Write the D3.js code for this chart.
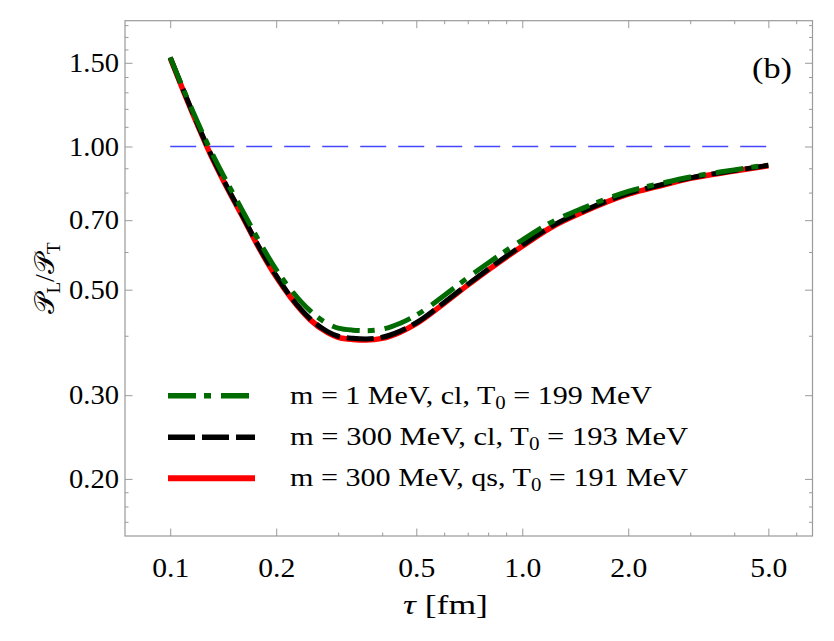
<!DOCTYPE HTML>
<html lang="en">
  <head>
    <meta charset="utf-8" />
    <title>PL/PT vs tau</title>
    <style>
      body { margin: 0; background: #fff; }
      svg text { font-family: "Liberation Serif", "Times New Roman", serif; fill: #000; }
    </style>
  </head>
  <body>
  <script src="https://d3js.org/d3.v7.min.js"></script>
  <script>
    // data
    const tau = [0.1, 0.11, 0.12, 0.13, 0.14, 0.16, 0.18, 0.2, 0.22, 0.25, 0.28, 0.3, 0.33, 0.36,
                 0.4, 0.45, 0.5, 0.6, 0.7, 0.8, 1.0, 1.2, 1.5, 2.0, 2.5, 3.0, 4.0, 5.0];
    const greenVals = [1.54, 1.299, 1.119, 0.984, 0.883, 0.736, 0.627, 0.551, 0.500, 0.451, 0.424, 0.415, 0.411, 0.410,
                       0.413, 0.425, 0.442, 0.486, 0.530, 0.569, 0.636, 0.691, 0.744, 0.805, 0.838, 0.863, 0.893, 0.916];
    const blackVals = [1.54, 1.293, 1.108, 0.969, 0.866, 0.718, 0.609, 0.535, 0.483, 0.434, 0.408, 0.399, 0.395, 0.394,
                       0.397, 0.409, 0.426, 0.470, 0.513, 0.552, 0.620, 0.677, 0.733, 0.797, 0.832, 0.859, 0.890, 0.913];
    const redVals = [1.535, 1.287, 1.103, 0.964, 0.862, 0.715, 0.606, 0.532, 0.481, 0.432, 0.406, 0.397, 0.393, 0.392,
                     0.395, 0.407, 0.424, 0.468, 0.511, 0.550, 0.617, 0.674, 0.730, 0.794, 0.829, 0.857, 0.888, 0.911];
    const refLine = [{t: 0.1, v: 1.0}, {t: 5.0, v: 1.0}];

    const xTicks = [0.1, 0.2, 0.5, 1.0, 2.0, 5.0];
    const xTickLabels = ["0.1", "0.2", "0.5", "1.0", "2.0", "5.0"];
    const xMinor = [0.3, 0.4, 0.6, 0.7, 0.8, 0.9, 3, 4, 6];
    const yTicks = [0.2, 0.3, 0.5, 0.7, 1.0, 1.5];
    const yTickLabels = ["0.20", "0.30", "0.50", "0.70", "1.00", "1.50"];
    const yMinor = [0.1625, 0.175, 0.1875, 0.4, 0.6, 0.8, 0.9, 1.1, 1.2, 1.3, 1.4, 1.6, 1.7, 1.8];

    const legendLabels = [
      ["m = 1 MeV, cl, T", "0", " = 199 MeV"],
      ["m = 300 MeV, cl, T", "0", " = 193 MeV"],
      ["m = 300 MeV, qs, T", "0", " = 191 MeV"]
    ];

    const width = 834, height = 641;
    const pLeft = 125, pRight = 812.5, pTop = 20.7, pBottom = 536;

    const svg = d3.select("body").append("svg")
      .attr("width", width)
      .attr("height", height);

    const x = d3.scaleLog().domain([0.0744, 6.674]).range([pLeft, pRight]);
    const y = d3.scaleLog().domain([0.1517, 1.839]).range([pBottom, pTop]);

    const series = [
      {vals: redVals, color: "#ff0000", w: 5.5, dash: null},
      {vals: blackVals, color: "#000000", w: 5, dash: "27,7"},
      {vals: greenVals, color: "#006b00", w: 5, dash: "28,8,7,10"}
    ];

    // axes (ticks inward)
    const axisColor = "#9a9a9a";
    function styleAxis(g) {
      g.select(".domain").remove();
      g.selectAll("line").attr("stroke", axisColor);
      g.selectAll("text")
        .attr("font-family", null)
        .style("font-size", "27px")
        .attr("lengthAdjust", "spacingAndGlyphs")
        .attr("textLength", function() { return this.textContent.length > 3 ? 50 : 37; });
    }
    svg.append("g").attr("transform", "translate(0," + pBottom + ")")
      .call(d3.axisBottom(x).tickValues(xTicks).tickSize(-7.5).tickPadding(22)
        .tickFormat((d, i) => xTickLabels[i]))
      .call(styleAxis);
    svg.append("g").attr("transform", "translate(0," + pBottom + ")")
      .call(d3.axisBottom(x).tickValues(xMinor).tickSize(-3.5).tickFormat(""))
      .call(styleAxis);
    svg.append("g").attr("transform", "translate(0," + pTop + ")")
      .call(d3.axisTop(x).tickValues(xTicks).tickSize(-7.5).tickFormat(""))
      .call(styleAxis);
    svg.append("g").attr("transform", "translate(0," + pTop + ")")
      .call(d3.axisTop(x).tickValues(xMinor).tickSize(-3.5).tickFormat(""))
      .call(styleAxis);
    svg.append("g").attr("transform", "translate(" + pLeft + ",0)")
      .call(d3.axisLeft(y).tickValues(yTicks).tickSize(-7.5).tickPadding(6)
        .tickFormat((d, i) => yTickLabels[i]))
      .call(styleAxis);
    svg.append("g").attr("transform", "translate(" + pLeft + ",0)")
      .call(d3.axisLeft(y).tickValues(yMinor).tickSize(-3.5).tickFormat(""))
      .call(styleAxis);
    svg.append("g").attr("transform", "translate(" + pRight + ",0)")
      .call(d3.axisRight(y).tickValues(yTicks).tickSize(-7.5).tickFormat(""))
      .call(styleAxis);
    svg.append("g").attr("transform", "translate(" + pRight + ",0)")
      .call(d3.axisRight(y).tickValues(yMinor).tickSize(-3.5).tickFormat(""))
      .call(styleAxis);

    // frame
    svg.append("rect")
      .attr("x", pLeft).attr("y", pTop)
      .attr("width", pRight - pLeft).attr("height", pBottom - pTop)
      .attr("fill", "none").attr("stroke", axisColor).attr("stroke-width", 1.2);

    // reference line at 1
    svg.append("path")
      .datum(refLine)
      .attr("d", d3.line().x(d => x(d.t)).y(d => y(d.v)))
      .attr("fill", "none").attr("stroke", "#4646ff").attr("stroke-width", 1.5)
      .attr("stroke-dasharray", "26,12");

    // curves
    const line = d3.line()
      .x((d, i) => x(tau[i]))
      .y(d => y(d))
      .curve(d3.curveMonotoneX);
    series.forEach(s => {
      svg.append("path")
        .datum(s.vals)
        .attr("d", line)
        .attr("fill", "none")
        .attr("stroke", s.color)
        .attr("stroke-width", s.w)
        .attr("stroke-dasharray", s.dash);
    });

    // legend
    const legendRows = [395.7, 437.3, 478.3];
    const legendWidths = [362, 398, 398];
    const legendOrder = [2, 1, 0];
    legendRows.forEach((ly, i) => {
      const s = series[legendOrder[i]];
      svg.append("line")
        .attr("x1", 168).attr("x2", 255).attr("y1", ly).attr("y2", ly)
        .attr("stroke", s.color).attr("stroke-width", s.w + 0.5)
        .attr("stroke-dasharray", s.dash);
      const t = svg.append("text")
        .attr("x", 290).attr("y", ly + 8)
        .attr("textLength", legendWidths[i])
        .attr("lengthAdjust", "spacingAndGlyphs")
        .style("font-size", "26px");
      t.append("tspan").text(legendLabels[i][0]);
      t.append("tspan").attr("dy", 5).style("font-size", "18px").text(legendLabels[i][1]);
      t.append("tspan").attr("dy", -5).text(legendLabels[i][2]);
    });

    // panel label
    svg.append("text")
      .attr("x", 752).attr("y", 78)
      .attr("textLength", 40).attr("lengthAdjust", "spacingAndGlyphs")
      .style("font-size", "29px")
      .text("(b)");

    // axis titles
    svg.append("text")
      .attr("x", 403).attr("y", 614)
      .attr("textLength", 85).attr("lengthAdjust", "spacingAndGlyphs")
      .style("font-size", "27px")
      .html('<tspan font-style="italic">τ</tspan> [fm]');

    const yt = svg.append("text")
      .attr("transform", "translate(54,278) rotate(-90)")
      .attr("text-anchor", "middle")
      .style("font-size", "28px");
    yt.append("tspan").text("𝒫");
    yt.append("tspan").attr("dy", 6).style("font-size", "19px").text("L");
    yt.append("tspan").attr("dy", -6).text("/𝒫");
    yt.append("tspan").attr("dy", 6).style("font-size", "19px").text("T");
  </script>
  </body>
</html>
